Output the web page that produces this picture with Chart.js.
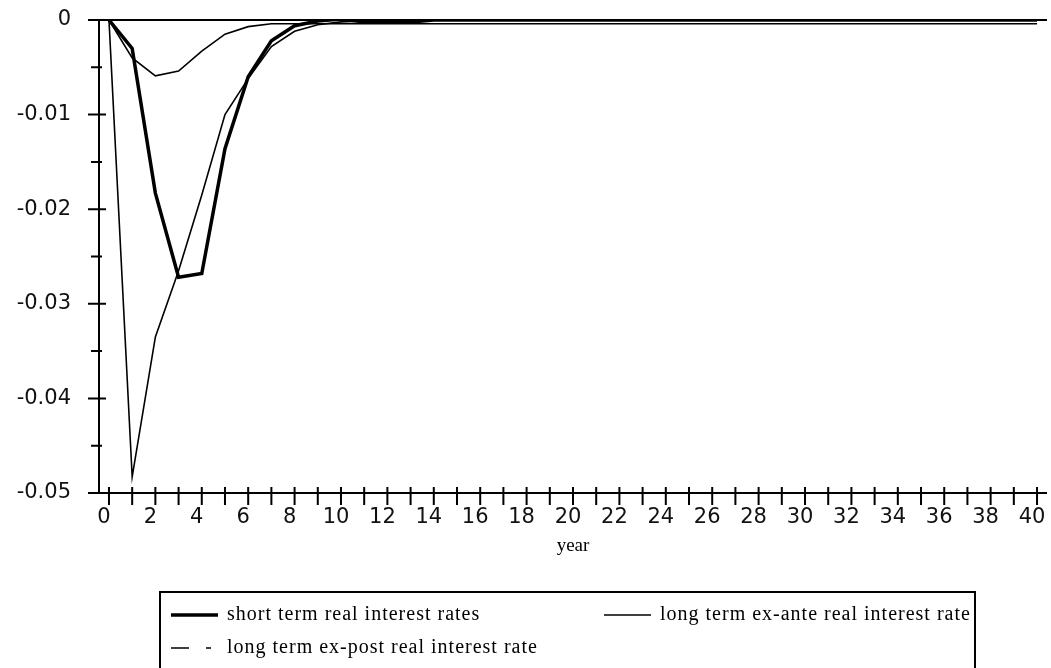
<!DOCTYPE html>
<html lang="en">
<head>
<meta charset="UTF-8">
<title>Real interest rates</title>
<script src="https://cdn.jsdelivr.net/npm/chart.js"></script>
<style>
    html, body {
        margin: 0;
        padding: 0;
        background: #fff;
    }
    #wrap {
        width: 1051px;
        height: 668px;
        position: relative;
    }
</style>
</head>
<body>

<div id="wrap"><canvas id="chartRates"></canvas></div>

<script>
    // years after the shock
    const years = [0, 1, 2, 3, 4, 5, 6, 7, 8, 9, 10, 11, 12, 13, 14, 15, 16, 17, 18, 19, 20,
                   21, 22, 23, 24, 25, 26, 27, 28, 29, 30, 31, 32, 33, 34, 35, 36, 37, 38, 39, 40];

    // responses (deviation from steady state)
    const shortTerm = [0, -0.0030, -0.0183, -0.0272, -0.0268, -0.0136, -0.0060, -0.0022, -0.0006, -0.0001,
                       0.0001, -0.0002, -0.0002, -0.0002, 0, 0, 0, 0, 0, 0,
                       0, 0, 0, 0, 0, 0, 0, 0, 0, 0,
                       0, 0, 0, 0, 0, 0, 0, 0, 0, 0, 0];
    const longExAnte = [0, -0.0040, -0.0059, -0.0054, -0.0033, -0.0015, -0.0007, -0.0004, -0.0004, -0.0004,
                        -0.0004, -0.0004, -0.0004, -0.0004, -0.0004, -0.0004, -0.0004, -0.0004, -0.0004, -0.0004,
                        -0.0004, -0.0004, -0.0004, -0.0004, -0.0004, -0.0004, -0.0004, -0.0004, -0.0004, -0.0004,
                        -0.0004, -0.0004, -0.0004, -0.0004, -0.0004, -0.0004, -0.0004, -0.0004, -0.0004, -0.0004, -0.0004];
    const longExPost = [0, -0.0483, -0.0335, -0.0265, -0.0185, -0.0100, -0.0062, -0.0028, -0.0012, -0.0005,
                        -0.0002, -0.0001, 0, 0, 0, 0, 0, 0, 0, 0,
                        0, 0, 0, 0, 0, 0, 0, 0, 0, 0,
                        0, 0, 0, 0, 0, 0, 0, 0, 0, 0, 0];

    const seriesNames = [
        'short term real interest rates',
        'long term ex-ante real interest rate',
        'long term ex-post real interest rate'
    ];

    // tick positions: every year on x, every half point on y (labels on whole points / even years)
    const xTickValues = years;
    const yTickValues = [0, -0.005, -0.01, -0.015, -0.02, -0.025, -0.03, -0.035, -0.04, -0.045, -0.05];
    const yLabelValues = [0, -0.01, -0.02, -0.03, -0.04, -0.05];

    const toPoints = vals => years.map((yr, i) => ({ x: yr, y: vals[i] }));

    // legend slots: sample start, row, dash pattern of the sample
    const legendSlots = [
        { x: 171, y: 615, dash: [] },
        { x: 604, y: 615, dash: [] },
        { x: 171, y: 648, dash: [18, 17, 5, 100] }
    ];

    // axis lines and the little crossing tick marks
    const axisMarks = {
        id: 'axisMarks',
        afterDatasetsDraw(chart) {
            const { ctx, chartArea: a, scales: { x, y } } = chart;
            ctx.save();
            ctx.strokeStyle = '#000';
            ctx.lineWidth = 2;
            ctx.beginPath();
            ctx.moveTo(a.left, a.top);
            ctx.lineTo(a.left, a.bottom);
            ctx.moveTo(a.left - 11, a.bottom);
            ctx.lineTo(a.right, a.bottom);
            const y0 = y.getPixelForValue(0);
            ctx.moveTo(a.left, y0);
            ctx.lineTo(a.right, y0);
            x.ticks.forEach(t => {
                const px = x.getPixelForValue(t.value);
                ctx.moveTo(px, a.bottom - 6);
                ctx.lineTo(px, a.bottom + 12);
            });
            y.ticks.forEach(t => {
                const py = y.getPixelForValue(t.value);
                const major = t.label !== '';
                ctx.moveTo(a.left - (major ? 11 : 8), py);
                ctx.lineTo(a.left + (major ? 7 : 3), py);
            });
            ctx.stroke();
            ctx.restore();
        }
    };

    // boxed legend under the plot, two entries on the first row
    const boxLegend = {
        id: 'boxLegend',
        afterDraw(chart) {
            const ctx = chart.ctx;
            ctx.save();
            ctx.strokeStyle = '#000';
            ctx.lineWidth = 2;
            ctx.strokeRect(160, 592, 815, 120);
            ctx.font = '20px "Liberation Serif", serif';
            ctx.fillStyle = '#000';
            ctx.textBaseline = 'middle';
            ctx.letterSpacing = '1px';
            chart.data.datasets.forEach((ds, i) => {
                const slot = legendSlots[i];
                ctx.beginPath();
                ctx.lineWidth = ds.borderWidth;
                ctx.setLineDash(slot.dash);
                ctx.moveTo(slot.x, slot.y);
                ctx.lineTo(slot.x + 47, slot.y);
                ctx.stroke();
                ctx.setLineDash([]);
                ctx.fillText(ds.label, slot.x + 56, slot.y);
            });
            ctx.restore();
        }
    };

    const tickFont = { family: '"DejaVu Sans", sans-serif', size: 21 };

    new Chart(document.getElementById('chartRates'), {
        type: 'line',
        data: {
            datasets: [
                { label: seriesNames[0], data: toPoints(shortTerm), borderColor: '#000', borderWidth: 3.5, borderJoinStyle: 'miter' },
                { label: seriesNames[1], data: toPoints(longExAnte), borderColor: '#000', borderWidth: 1.6 },
                { label: seriesNames[2], data: toPoints(longExPost), borderColor: '#000', borderWidth: 1.6 }
            ]
        },
        options: {
            responsive: true,
            maintainAspectRatio: false,
            animation: false,
            devicePixelRatio: 1,
            layout: { padding: { top: 20, right: 4, left: 0, bottom: 0 } },
            elements: {
                point: { radius: 0, hoverRadius: 0 },
                line: { tension: 0, fill: false }
            },
            plugins: {
                legend: { display: false },
                tooltip: { enabled: false }
            },
            scales: {
                x: {
                    type: 'linear',
                    min: -0.43,
                    max: 40.43,
                    grid: { display: false, drawTicks: false },
                    border: { display: false },
                    afterBuildTicks: s => { s.ticks = xTickValues.map(v => ({ value: v })); },
                    afterFit: s => { s.height = 175; s.paddingLeft = 0; s.paddingRight = 0; },
                    ticks: {
                        autoSkip: false,
                        maxRotation: 0,
                        padding: 12,
                        labelOffset: -5,
                        color: '#111',
                        font: tickFont,
                        callback: v => (v % 2 === 0 ? String(v) : '')
                    },
                    title: {
                        display: true,
                        text: 'year',
                        color: '#000',
                        font: { family: '"Liberation Serif", serif', size: 19 },
                        padding: { top: 0, bottom: 111 }
                    }
                },
                y: {
                    min: -0.05,
                    max: 0,
                    grid: { display: false, drawTicks: false },
                    border: { display: false },
                    afterBuildTicks: s => { s.ticks = yTickValues.map(v => ({ value: v })); },
                    afterFit: s => { s.width = 99; s.paddingTop = 0; s.paddingBottom = 0; },
                    ticks: {
                        autoSkip: false,
                        padding: 28,
                        color: '#111',
                        font: tickFont,
                        callback: v => (yLabelValues.includes(v) ? (v === 0 ? '0' : v.toFixed(2)) : '')
                    }
                }
            }
        },
        plugins: [axisMarks, boxLegend]
    });
</script>

</body>
</html>
